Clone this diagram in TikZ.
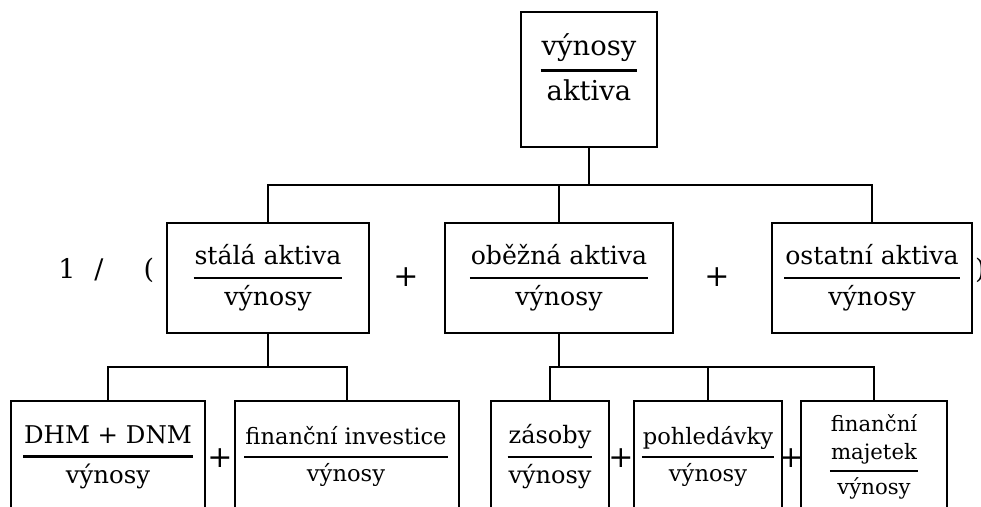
\documentclass[tikz,border=0pt]{standalone}
\usepackage{fontspec}
\setmainfont{DejaVu Serif}
\usepackage{array}

% font size in pt with a 1.2 baselineskip
\newcommand\setfs[1]{\fontsize{#1pt}{\fpeval{1.2*#1}pt}\selectfont}
% ratio with a thick bar: size, numerator, denominator
\newcommand\ratio[3]{{\setfs{#1}\setlength\arrayrulewidth{2.6pt}\setlength\tabcolsep{1pt}%
  \begin{tabular}[t]{c}#2\\[0.15em]\hline\noalign{\vspace{0.19em}}#3\end{tabular}}}

\begin{document}
\begin{tikzpicture}[x=1pt,y=-1pt,
  box/.style={draw, line width=2pt, inner sep=0pt, outer sep=0pt},
  conn/.style={line width=2pt},
  frac/.style={anchor=base, inner sep=0pt},
  sym/.style={inner sep=0pt, font=\setfs{27}},
  plus/.style={inner sep=0pt, font=\setfs{30}}]
\useasboundingbox (0,0) rectangle (981,506);
\clip (0,0) rectangle (981,506);

% boxes
\node[box, minimum width=136pt, minimum height=135pt] (top) at (589,79.5) {};
\node[box, minimum width=202pt, minimum height=110pt] (stala) at (268,278) {};
\node[box, minimum width=228pt, minimum height=110pt] (obezna) at (559,278) {};
\node[box, minimum width=200pt, minimum height=110pt] (ostatni) at (872,278) {};
\node[box, minimum width=194pt, minimum height=129pt] (dhm) at (108,465.5) {};
\node[box, minimum width=224pt, minimum height=129pt] (fininv) at (347,465.5) {};
\node[box, minimum width=118pt, minimum height=129pt] (zasoby) at (550,465.5) {};
\node[box, minimum width=148pt, minimum height=129pt] (pohl) at (708,465.5) {};
\node[box, minimum width=146pt, minimum height=129pt] (finmaj) at (874,465.5) {};

% ratios
\node[frac] (f-top) at (589,55.5) {\ratio{27.4}{výnosy}{aktiva}};
\node[frac] (f-stala) at (268,264) {\ratio{25.2}{stálá aktiva}{výnosy}};
\node[frac] (f-obezna) at (559,264) {\ratio{25.2}{oběžná aktiva}{výnosy}};
\node[frac] (f-ostatni) at (872,264) {\ratio{25.2}{ostatní aktiva}{výnosy}};
\node[frac] (f-dhm) at (108,443) {\ratio{24.4}{DHM + DNM}{výnosy}};
\node[frac] (f-fininv) at (346,444.3) {\ratio{22.6}{finanční investice}{výnosy}};
\node[frac] (f-zasoby) at (550,443.6) {\ratio{24}{zásoby}{výnosy}};
\node[frac] (f-pohl) at (708,444.3) {\ratio{22.6}{pohledávky}{výnosy}};
\node[frac] (f-finmaj) at (874,459) {\ratio{21.2}{\begin{tabular}[b]{@{}c@{}}finanční\\[0.12em]majetek\end{tabular}}{výnosy}};

% symbols
\node[sym, anchor=base] (one) at (67,278) {1};
\node[sym, anchor=base] (slash) at (99,278) {/};
\node[sym, anchor=base] (lpar) at (149,278) {(};
\node[sym, anchor=base west] (rpar) at (975,278) {)};
\node[plus] (p1) at (406,277) {+};
\node[plus] (p2) at (717,277) {+};
\node[plus] (p3) at (220,458) {+};
\node[plus] (p4) at (621,458) {+};
\node[plus] (p5) at (791,458) {+};

% connectors
\coordinate (bus1) at (0,185);
\coordinate (bus2) at (0,367);
\draw[conn] (top.south) -- (top.south |- bus1);
\draw[conn] (stala.north) |- (ostatni.north |- bus1) -- (ostatni.north);
\draw[conn] (obezna.north) -- (obezna.north |- bus1);
\draw[conn] (stala.south) -- (stala.south |- bus2);
\draw[conn] (dhm.north) |- (fininv.north |- bus2) -- (fininv.north);
\draw[conn] (obezna.south) -- (obezna.south |- bus2);
\draw[conn] (zasoby.north) |- (finmaj.north |- bus2) -- (finmaj.north);
\draw[conn] (pohl.north) -- (pohl.north |- bus2);
\end{tikzpicture}
\end{document}
